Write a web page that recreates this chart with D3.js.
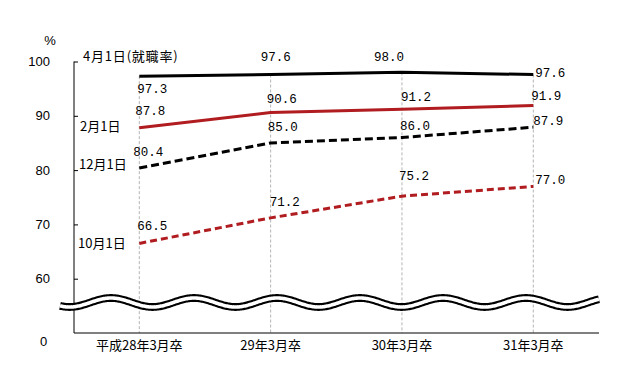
<!DOCTYPE html>
<html>
<head>
<meta charset="utf-8">
<script src="https://cdn.jsdelivr.net/npm/d3@7"></script>
<style>
  body { margin: 0; background: #fff; }
  svg text { font-family: "Liberation Sans", "Noto Sans CJK JP", sans-serif; }
  .num { font-family: "Liberation Mono", "DejaVu Sans Mono", monospace; font-size: 12.5px; }
  .jp { font-family: "Noto Sans CJK JP", sans-serif; font-size: 13px; }
</style>
</head>
<body>
<svg width="634" height="365"></svg>
<script>
const categories = ["平成28年3月卒", "29年3月卒", "30年3月卒", "31年3月卒"];
const seriesNames = ["4月1日(就職率)", "2月1日", "12月1日", "10月1日"];
const apr = [97.3, 97.6, 98.0, 97.6];
const feb = [87.8, 90.6, 91.2, 91.9];
const dec = [80.4, 85.0, 86.0, 87.9];
const oct = [66.5, 71.2, 75.2, 77.0];
const yTicks = [100, 90, 80, 70, 60];

// styling and label placement, per series (not data)
const styles = [
  { color: "#000", dash: null },
  { color: "#b01c1f", dash: null },
  { color: "#000", dash: "8,4" },
  { color: "#b01c1f", dash: "7,4" }
];
// label offsets [dx from point to text start, dy from point to text middle]
const labelOffsets = [
  [[-2, 12], [-10, -18.5], [-28, -15.6], [2, -1.8]],
  [[-4, -17.7], [-4, -14.2], [-1, -12.6], [-2, -9.5]],
  [[-6, -16.3], [-3, -16.3], [-2, -12.2], [0, -7.2]],
  [[-2, -17.7], [-1, -16.2], [-3, -20.2], [2, -7.1]]
];
const nameLabelPos = [[83, 56], [80, 126], [79, 164], [78, 243]];

const series = [apr, feb, dec, oct].map((values, i) => ({ name: seriesNames[i], values }));

const svg = d3.select("svg");
const axisX = 74, axisRight = 599, baseY = 333;

const x = d3.scalePoint()
  .domain(categories)
  .range([139.3, 533.3]);

const y = d3.scaleLinear()
  .domain([50, 100])
  .range([baseY, 61.5]);

// vertical dashed guides from top line down to the baseline
svg.append("g")
  .selectAll("line")
  .data(categories)
  .join("line")
  .attr("x1", d => x(d)).attr("x2", d => x(d))
  .attr("y1", (d, i) => y(d3.max(series, s => s.values[i])))
  .attr("y2", baseY)
  .attr("stroke", "#b4b4b4")
  .attr("stroke-width", 1)
  .attr("stroke-dasharray", "3,2");

// y axis with inward ticks
const yAxis = svg.append("g")
  .attr("transform", `translate(${axisX},0)`)
  .call(d3.axisLeft(y).tickValues(yTicks).tickSize(-4).tickPadding(24));
yAxis.select(".domain").attr("d", `M0,${y(100)}V${baseY}`).attr("stroke", "#000");
yAxis.selectAll(".tick line").attr("stroke", "#000");
yAxis.selectAll(".tick text")
  .attr("font-size", 13).attr("fill", "#000")
  .attr("font-family", "Liberation Sans, sans-serif");

// x baseline
svg.append("line")
  .attr("x1", axisX).attr("x2", axisRight)
  .attr("y1", baseY).attr("y2", baseY)
  .attr("stroke", "#000");

// broken axis "0" label and unit
svg.append("text").attr("x", 43.5).attr("y", 346).attr("text-anchor", "middle")
  .attr("font-size", 13).text("0");
svg.append("text").attr("x", 50).attr("y", 45).attr("text-anchor", "middle")
  .attr("font-size", 13).text("%");

// category labels
svg.append("g")
  .selectAll("text")
  .data(categories)
  .join("text")
  .attr("class", "jp")
  .attr("x", d => x(d))
  .attr("y", 350)
  .attr("text-anchor", "middle")
  .text(d => d);

// wavy break mark
const waveY = 302.5, amp = 4.5, period = 83, phase = 111;
const wavePts = d3.range(60, axisRight + 1, 1).map(px =>
  [px, waveY - amp * Math.cos((px - phase) / period * 2 * Math.PI)]);
const waveLine = d3.line();
svg.append("path").attr("d", waveLine(wavePts))
  .attr("fill", "none").attr("stroke", "#000").attr("stroke-width", 7.8);
svg.append("path").attr("d", waveLine(wavePts))
  .attr("fill", "none").attr("stroke", "#fff").attr("stroke-width", 3.6);

// series lines
const line = d3.line()
  .x((d, i) => x(categories[i]))
  .y(d => y(d));

svg.append("g")
  .selectAll("path")
  .data(series)
  .join("path")
  .attr("d", d => line(d.values))
  .attr("fill", "none")
  .attr("stroke", (d, i) => styles[i].color)
  .attr("stroke-width", 3)
  .attr("stroke-dasharray", (d, i) => styles[i].dash);

// value labels
series.forEach((s, si) => {
  svg.append("g")
    .selectAll("text")
    .data(s.values)
    .join("text")
    .attr("class", "num")
    .attr("x", (d, i) => x(categories[i]) + labelOffsets[si][i][0])
    .attr("y", (d, i) => y(d) + labelOffsets[si][i][1] + 4.5)
    .text(d => d.toFixed(1));
});

// series name labels
svg.append("g")
  .selectAll("text")
  .data(series)
  .join("text")
  .attr("class", "jp")
  .attr("x", (d, i) => nameLabelPos[i][0])
  .attr("y", (d, i) => nameLabelPos[i][1] + 4.5)
  .attr("letter-spacing", (d, i) => i === 0 ? 0.8 : 0)
  .text(d => d.name);
</script>
</body>
</html>
